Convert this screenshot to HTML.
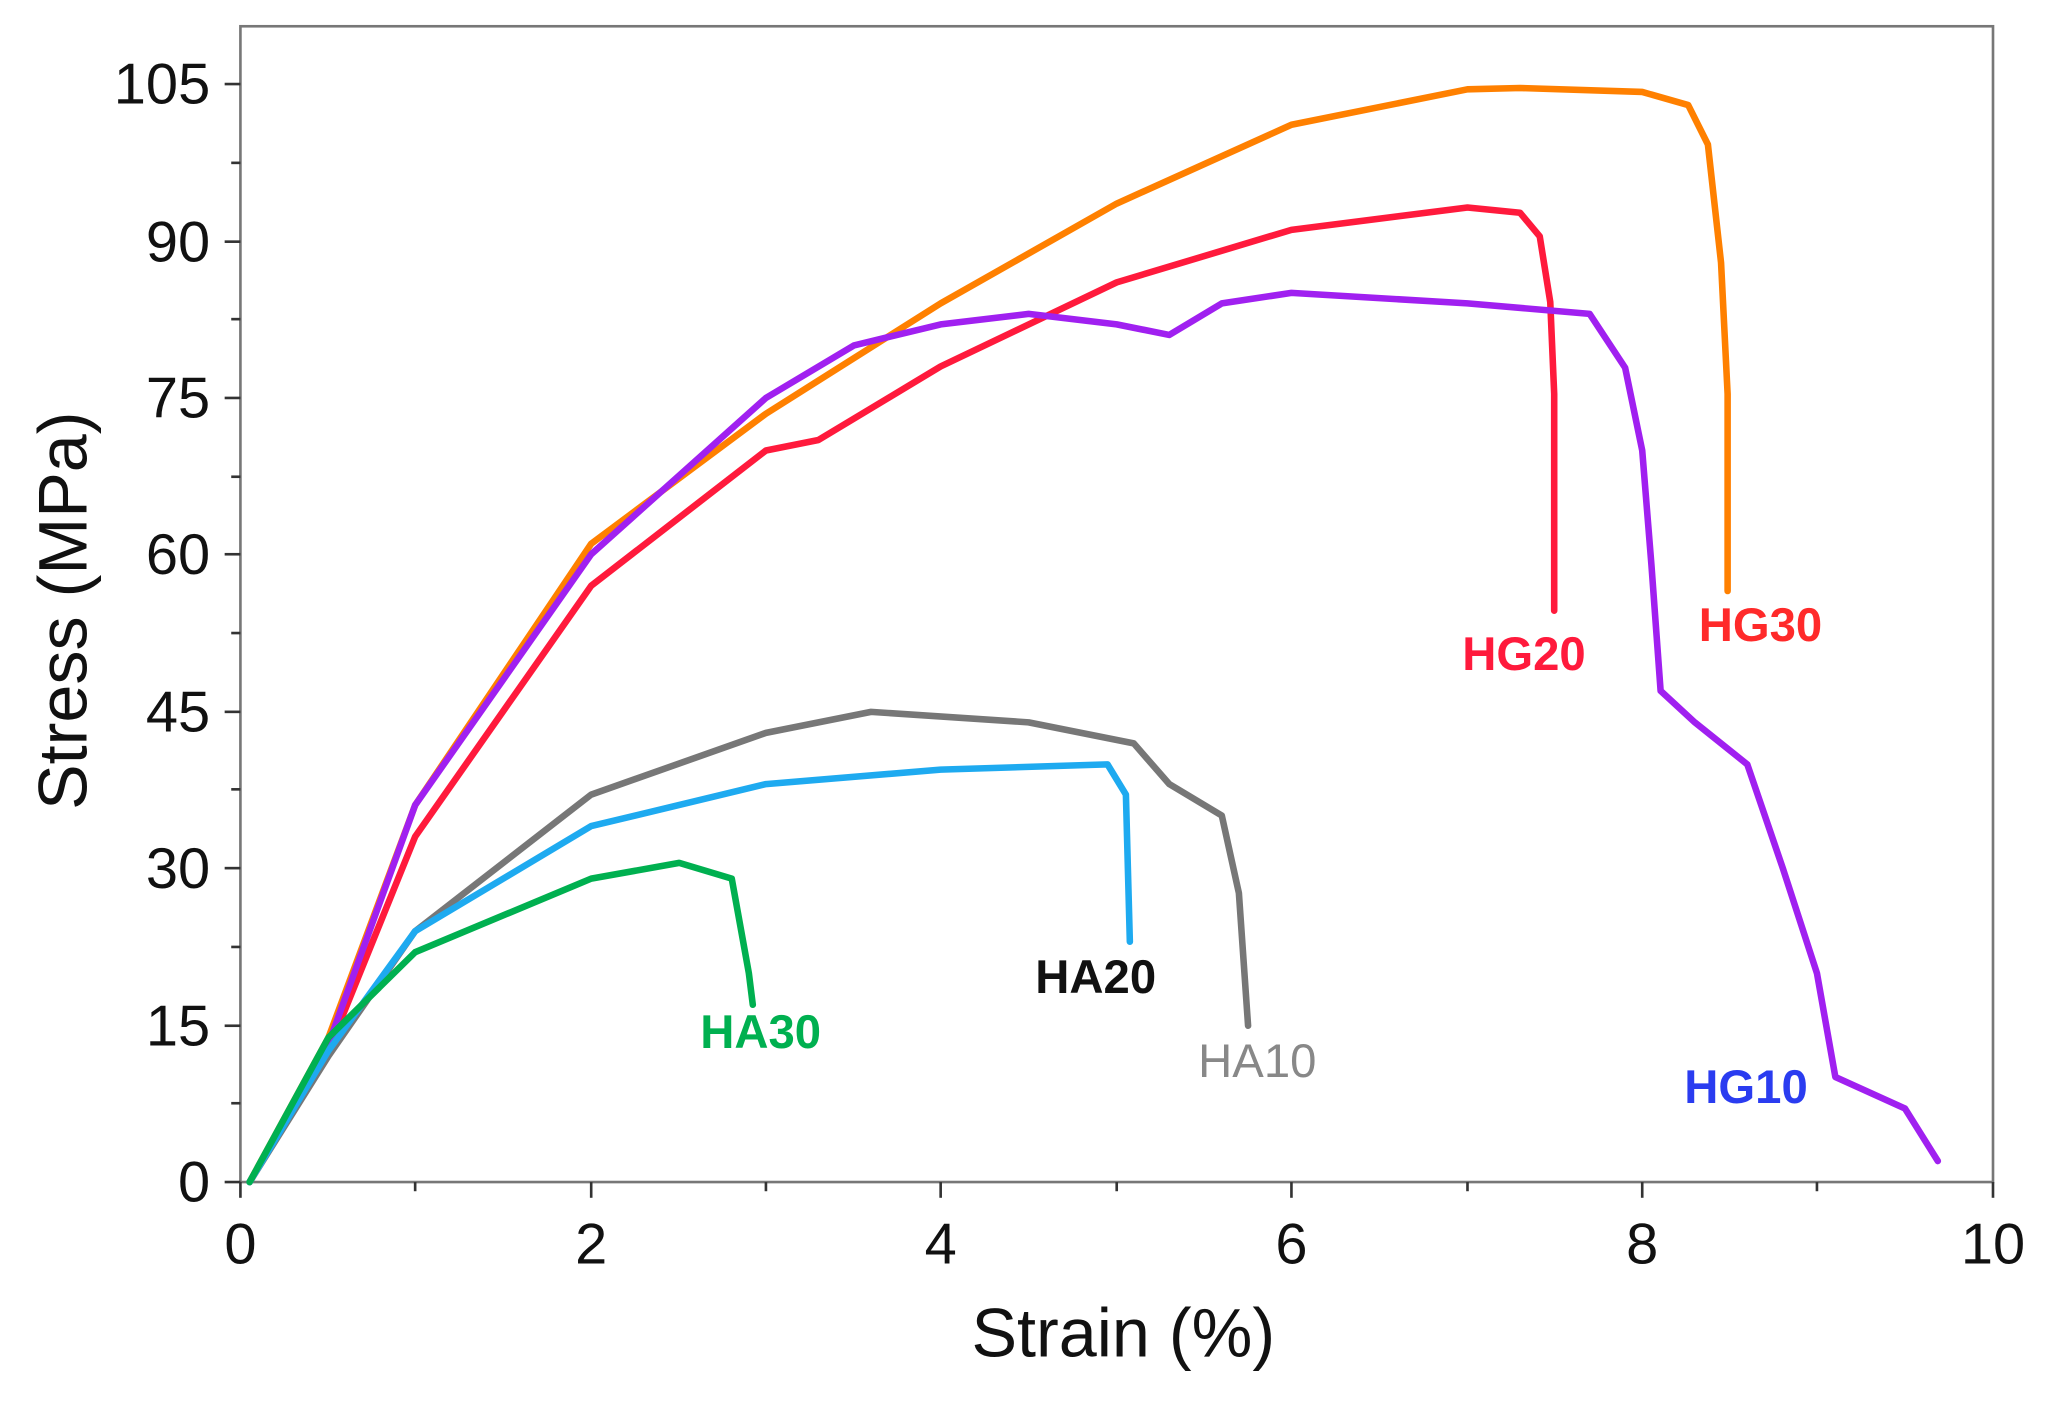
<!DOCTYPE html>
<html><head><meta charset="utf-8"><style>html,body{margin:0;padding:0;background:#fff}svg{display:block}</style></head>
<body>
<svg width="2060" height="1404" viewBox="0 0 1568 1069" preserveAspectRatio="none" xmlns="http://www.w3.org/2000/svg" font-family="Liberation Sans, sans-serif">
<rect x="183" y="20" width="1334" height="880" fill="none" stroke="#777" stroke-width="2"/>
<g stroke="#333" stroke-width="2">
<line x1="183" y1="900" x2="183" y2="912"/><line x1="450" y1="900" x2="450" y2="912"/><line x1="716" y1="900" x2="716" y2="912"/><line x1="983" y1="900" x2="983" y2="912"/><line x1="1250" y1="900" x2="1250" y2="912"/><line x1="1517" y1="900" x2="1517" y2="912"/>
<line x1="316" y1="900" x2="316" y2="907"/><line x1="583" y1="900" x2="583" y2="907"/><line x1="850" y1="900" x2="850" y2="907"/><line x1="1117" y1="900" x2="1117" y2="907"/><line x1="1383" y1="900" x2="1383" y2="907"/>
<line x1="171" y1="900" x2="183" y2="900"/><line x1="171" y1="781" x2="183" y2="781"/><line x1="171" y1="661" x2="183" y2="661"/><line x1="171" y1="542" x2="183" y2="542"/><line x1="171" y1="422" x2="183" y2="422"/><line x1="171" y1="303" x2="183" y2="303"/><line x1="171" y1="184" x2="183" y2="184"/><line x1="171" y1="64" x2="183" y2="64"/>
<line x1="176" y1="840" x2="183" y2="840"/><line x1="176" y1="721" x2="183" y2="721"/><line x1="176" y1="601" x2="183" y2="601"/><line x1="176" y1="482" x2="183" y2="482"/><line x1="176" y1="363" x2="183" y2="363"/><line x1="176" y1="243" x2="183" y2="243"/><line x1="176" y1="124" x2="183" y2="124"/>
</g>
<g font-size="44" fill="#111" text-anchor="end">
<text x="160" y="915">0</text><text x="160" y="796">15</text><text x="160" y="676">30</text><text x="160" y="557">45</text><text x="160" y="437">60</text><text x="160" y="318">75</text><text x="160" y="199">90</text><text x="160" y="79">105</text>
</g>
<g font-size="44" fill="#111" text-anchor="middle">
<text x="183" y="962">0</text><text x="450" y="962">2</text><text x="716" y="962">4</text><text x="983" y="962">6</text><text x="1250" y="962">8</text><text x="1517" y="962">10</text>
<text x="855" y="1033" font-size="52">Strain (%)</text>
<text transform="translate(66,465) rotate(-90)" font-size="52">Stress (MPa)</text>
</g>
<g fill="none" stroke-width="5" stroke-linejoin="round" stroke-linecap="round">
<path stroke="#ff8000" d="M190,900 L250,790 L316,613 L450,414 L583,315 L716,231 L850,155 L983,95 L1117,68 L1157,67 L1250,70 L1285,80 L1300,110 L1310,200 L1315,300 L1315,450"/>
<path stroke="#ff1a3c" d="M190,900 L250,800 L316,637 L450,446 L583,343 L623,335 L716,279 L850,215 L983,175 L1117,158 L1157,162 L1172,180 L1180,230 L1183,300 L1183,465"/>
<path stroke="#a020f0" d="M190,900 L250,795 L316,613 L450,422 L583,303 L650,263 L716,247 L783,239 L850,247 L890,255 L930,231 L983,223 L1117,231 L1210,239 L1237,280 L1250,343 L1257,430 L1264,526 L1290,550 L1330,582 L1357,661 L1383,741 L1397,820 L1450,844 L1475,884"/>
<path stroke="#777" d="M190,900 L250,804 L316,709 L450,605 L583,558 L663,542 L783,550 L863,566 L890,597 L930,621 L943,680 L950,781"/>
<path stroke="#1eaaf0" d="M190,900 L250,800 L316,709 L450,629 L583,597 L716,586 L843,582 L857,605 L860,717"/>
<path stroke="#00b050" d="M190,900 L250,790 L316,725 L450,669 L517,657 L557,669 L570,741 L573,765"/>
</g>
<g font-size="36" font-weight="bold">
<text x="1113" y="510" fill="#ff1a3c">HG20</text>
<text x="1293" y="488" fill="#ff2a2a">HG30</text>
<text x="1282" y="840" fill="#2a3cf0">HG10</text>
<text x="788" y="756" fill="#111">HA20</text>
<text x="533" y="798" fill="#00b050">HA30</text>
<text x="912" y="820" fill="#888" font-weight="normal">HA10</text>
</g>
</svg>
</body></html>
